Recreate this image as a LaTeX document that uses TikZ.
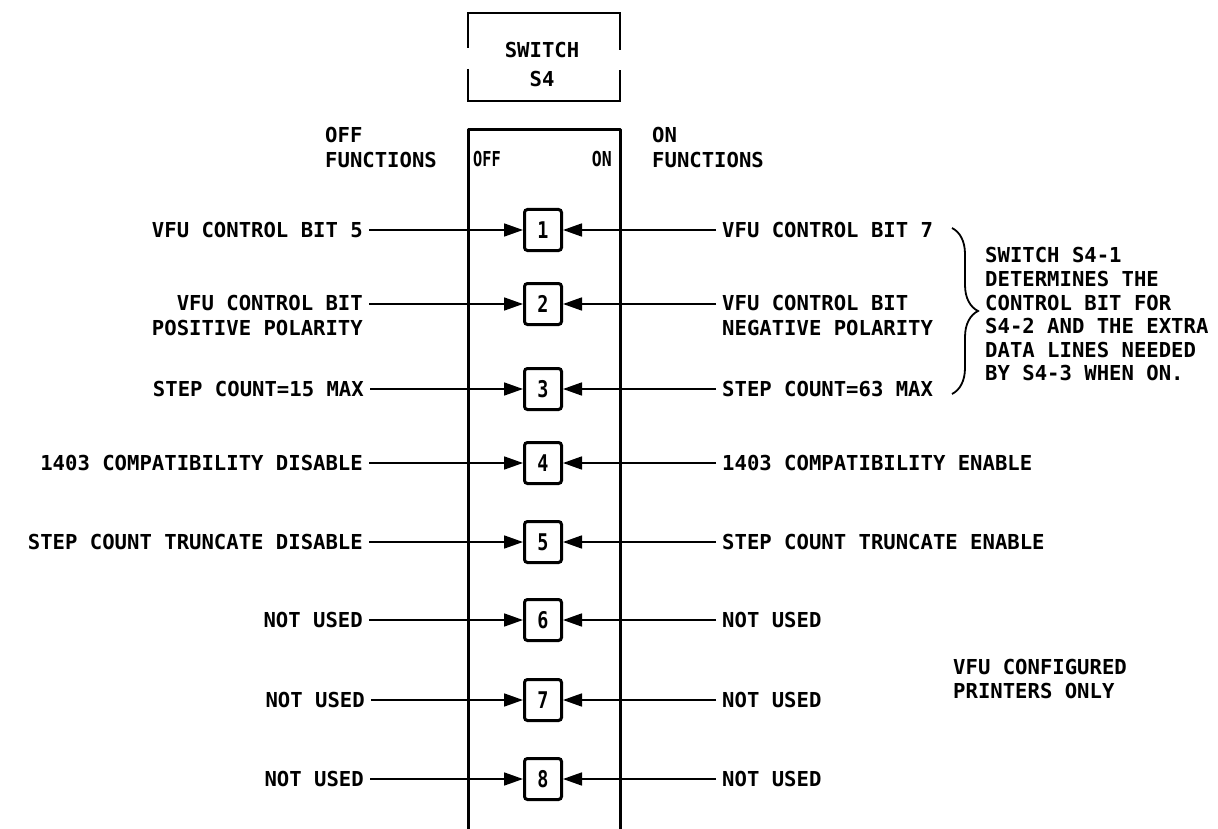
\documentclass[tikz,border=0pt]{standalone}
\usepackage{fontspec}
\usepackage{graphicx}
\usetikzlibrary{arrows.meta,decorations.pathreplacing}
\newfontfamily\lettering{DejaVu Sans Mono Bold}
\tikzset{
  lbl/.style={font=\lettering\fontsize{20.6}{25}\selectfont, inner sep=0pt, text height=15pt, text depth=0pt},
  lblm/.style={font=\lettering\fontsize{20.6}{25}\selectfont, inner sep=0pt},
  note/.style={font=\lettering\fontsize{20.6}{23.6}\selectfont, inner sep=0pt, align=left, anchor=north west},
  numbox/.style={draw, line width=3pt, rounded corners=3pt, minimum width=37pt, minimum height=41pt, inner sep=0pt,
    font=\lettering\fontsize{23}{23}\selectfont},
  conn/.style={line width=1.7pt, shorten <=6pt, -{Triangle[length=19pt,width=13pt]}},
  boxline/.style={line width=3pt, line join=round},
  topline/.style={line width=2.4pt},
  swlbl/.style={font=\lettering\fontsize{20.6}{20.6}\selectfont, inner sep=0pt, text height=15pt, text depth=0pt}
}
\begin{document}
\begin{tikzpicture}[x=1pt,y=-1pt]
\useasboundingbox (0,0) rectangle (1218,829);
\fill[white] (0,0) rectangle (1218,829);

% top switch box (with gaps on the sides)
\draw[topline] (468,48) -- (468,13) -- (620,13) -- (620,50);
\draw[topline] (468,69) -- (468,101) -- (620,101) -- (620,70);
\node[lbl] (sw) at (542,50) {SWITCH};
\node[lbl] (s4) at (542,79) {S4};

% main switch housing (open at bottom)
\draw[boxline] (468,829) -- (468,130) -- (620,130) -- (620,829);
\node[swlbl, anchor=west] (offin) at (473,159.5) {\scalebox{0.74}[1]{OFF}};
\node[swlbl, anchor=east] (onin) at (612,159.5) {\scalebox{0.8}[1]{ON}};

% column headings
\node[lblm, align=left, anchor=north west] (offh) at (325,127.5) {OFF\\FUNCTIONS};
\node[lblm, align=left, anchor=north west] (onh) at (652,127.5) {ON\\FUNCTIONS};

% switch positions
\foreach \n/\y in {1/230,2/304,3/389,4/463,5/542,6/620,7/700,8/779}{
  \node[numbox] (b\n) at (543,\y) {\scalebox{0.8}[1]{\n}};
}

% OFF functions (left)
\node[lbl, anchor=east] (l1) at (363,230) {VFU CONTROL BIT 5};
\node[lblm, align=right, anchor=north east] (l2) at (363,295.5) {VFU CONTROL BIT\\POSITIVE POLARITY};
\node[lbl, anchor=east] (l3) at (364,389) {STEP COUNT=15 MAX};
\node[lbl, anchor=east] (l4) at (363,463) {1403 COMPATIBILITY DISABLE};
\node[lbl, anchor=east] (l5) at (363,542) {STEP COUNT TRUNCATE DISABLE};
\node[lbl, anchor=east] (l6) at (363,620) {NOT USED};
\node[lbl, anchor=east] (l7) at (365,700) {NOT USED};
\node[lbl, anchor=east] (l8) at (364,779) {NOT USED};

% ON functions (right)
\node[lbl, anchor=west] (r1) at (722,230) {VFU CONTROL BIT 7};
\node[lblm, align=left, anchor=north west] (r2) at (722,295.5) {VFU CONTROL BIT\\NEGATIVE POLARITY};
\node[lbl, anchor=west] (r3) at (722,389) {STEP COUNT=63 MAX};
\node[lbl, anchor=west] (r4) at (722,463) {1403 COMPATIBILITY ENABLE};
\node[lbl, anchor=west] (r5) at (722,542) {STEP COUNT TRUNCATE ENABLE};
\node[lbl, anchor=west] (r6) at (722,620) {NOT USED};
\node[lbl, anchor=west] (r7) at (722,700) {NOT USED};
\node[lbl, anchor=west] (r8) at (722,779) {NOT USED};

% connectors
\draw[conn] (l1.east) -- (b1.west);
\draw[conn] (l2.east |- b2.west) -- (b2.west);
\foreach \n in {3,...,8}{ \draw[conn] (l\n.east) -- (b\n.west); }
\draw[conn] (r1.west) -- (b1.east);
\draw[conn] (r2.west |- b2.east) -- (b2.east);
\foreach \n in {3,...,8}{ \draw[conn] (r\n.west) -- (b\n.east); }

% brace and note
\coordinate (bt) at (952,228);
\coordinate (bb) at (952,394);
\draw[line width=1.8pt, decorate, decoration={brace, amplitude=26pt}] (bt) -- (bb);
\node[note] (n1) at (985,247.5) {SWITCH S4-1\\DETERMINES THE\\CONTROL BIT FOR\\S4-2 AND THE EXTRA\\DATA LINES NEEDED\\BY S4-3 WHEN ON.};

\node[note] (n2) at (953,659.5) {VFU CONFIGURED\\PRINTERS ONLY};
\end{tikzpicture}
\end{document}
